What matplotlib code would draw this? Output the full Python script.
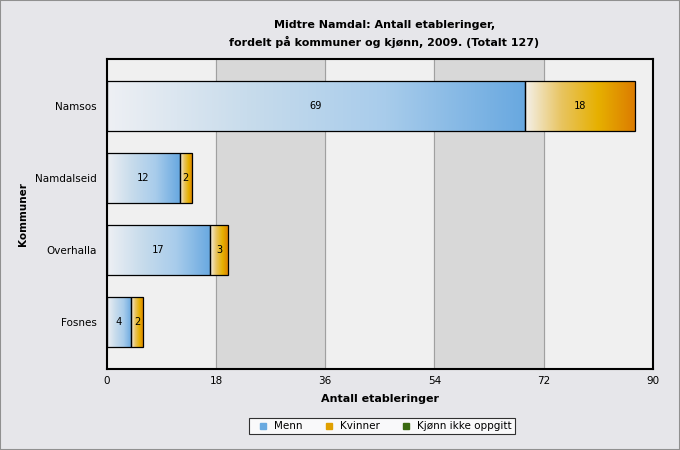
import numpy as np
import matplotlib.pyplot as plt
from matplotlib.colors import LinearSegmentedColormap
from matplotlib.lines import Line2D

kommuner = ['Namsos', 'Namdalseid', 'Overhalla', 'Fosnes']
menn = [69, 12, 17, 4]
kvinner = [18, 2, 3, 2]
ukjent = [0, 0, 0, 0]
xticks = [0, 18, 36, 54, 72, 90]

bg = '#e6e6ea'
fig = plt.figure(figsize=(6.8, 4.5), dpi=100, facecolor=bg)
ax = fig.add_axes([0.157, 0.18, 0.803, 0.689])
ax.set_facecolor('#f0f0f0')

# alternating bands
for i in range(len(xticks) - 1):
    if i % 2 == 1:
        ax.axvspan(xticks[i], xticks[i + 1], color='#d8d8d8', zorder=0)
for x in xticks[1:-1]:
    ax.axvline(x, color='#a0a0a0', lw=0.8, zorder=0.5)

cm_menn = LinearSegmentedColormap.from_list('menn', ['#eef0f4', '#c8dcec', '#a8cceb', '#68a8e0'])
cm_kv = LinearSegmentedColormap.from_list('kv', ['#f4f0ea', '#e8c460', '#e6b000', '#dc7c00'])
grad = np.linspace(0, 1, 256).reshape(1, -1)

ypos = np.arange(len(kommuner))
h = 0.69
for y, m, k in zip(ypos, menn, kvinner):
    ax.imshow(grad, cmap=cm_menn, aspect='auto', extent=[0, m, y - h / 2, y + h / 2], zorder=2)
    ax.imshow(grad, cmap=cm_kv, aspect='auto', extent=[m, m + k, y - h / 2, y + h / 2], zorder=2)
    ax.text(m / 2, y, str(m), ha='center', va='center', fontsize=7.5, family='DejaVu Sans Mono', zorder=4)
    ax.text(m + k / 2, y, str(k), ha='center', va='center', fontsize=7.5, family='DejaVu Sans Mono', zorder=4)

ax.barh(ypos, menn, height=h, facecolor='none', edgecolor='black', lw=0.9, zorder=3)
ax.barh(ypos, kvinner, left=menn, height=h, facecolor='none', edgecolor='black', lw=0.9, zorder=3)

ax.set_xlim(0, 90)
ax.set_ylim(len(kommuner) - 1 + 0.653, -0.653)
ax.set_xticks(xticks)
ax.set_xticklabels([str(t) for t in xticks], fontsize=7.5)
ax.set_yticks(ypos)
ax.set_yticklabels(kommuner, fontsize=7.5)
ax.tick_params(axis='x', length=0, pad=5)
ax.tick_params(axis='y', length=0, pad=7)
for s in ax.spines.values():
    s.set_linewidth(1.5)

ax.set_xlabel('Antall etableringer', fontsize=8, fontweight='bold', labelpad=6)
ax.set_ylabel('Kommuner', fontsize=7.5, fontweight='bold', labelpad=5)

fig.text(0.565, 0.945, 'Midtre Namdal: Antall etableringer,', ha='center', va='center',
         fontsize=8, fontweight='bold')
fig.text(0.565, 0.907, 'fordelt på kommuner og kjønn, 2009. (Totalt 127)', ha='center', va='center',
         fontsize=8, fontweight='bold')

handles = [Line2D([], [], marker='s', ls='none', color=c, markersize=4)
           for c in ['#6aaae0', '#e0a000', '#3a6a10']]
leg = fig.legend(handles, ['Menn', 'Kvinner', 'Kjønn ikke oppgitt'], loc='center',
                 bbox_to_anchor=(0.562, 0.053), ncol=3, fontsize=7.5, frameon=True,
                 fancybox=False, edgecolor='black', facecolor='white', handletextpad=0.1,
                 columnspacing=1.5, borderpad=0.3, borderaxespad=0)
leg.get_frame().set_linewidth(0.8)

fig.patches.append(plt.Rectangle((0, 0), 1, 1, transform=fig.transFigure, fill=False,
                                 edgecolor='#909090', lw=1.5))

fig.savefig('out.png', dpi=100, facecolor=bg)
